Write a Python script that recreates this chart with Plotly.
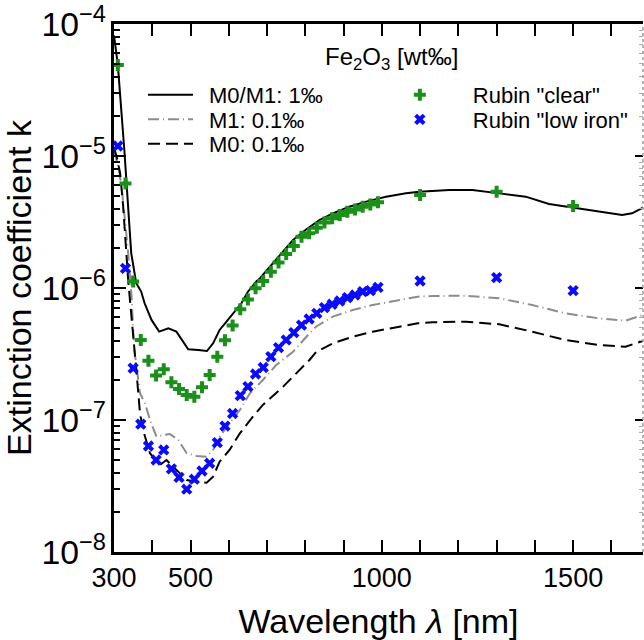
import plotly.graph_objects as go

# Model curves: wavelength [nm] and extinction coefficient k
wl_m01 = [300, 310, 327, 345, 358, 371, 380, 398, 418, 442, 463, 477, 494, 520, 543, 559,
          576, 594, 611, 633, 650, 672, 681, 707, 733, 768, 803, 837, 872, 915, 959, 1011,
          1063, 1098, 1176, 1237, 1307, 1376, 1437, 1498, 1567, 1628, 1654, 1685]
k_m01 = [8.2e-5, 4.9e-5, 1.11e-5, 1.84e-6, 1.09e-6, 9.4e-7, 7.66e-7, 5.73e-7, 4.67e-7, 4.95e-7,
         4.67e-7, 4.03e-7, 3.43e-7, 3.39e-7, 3.33e-7, 3.81e-7, 4.81e-7, 5.56e-7, 6.43e-7,
         7.66e-7, 9.37e-7, 1.12e-6, 1.18e-6, 1.45e-6, 1.78e-6, 2.31e-6, 2.79e-6, 3.27e-6,
         3.68e-6, 4.13e-6, 4.51e-6, 4.92e-6, 5.22e-6, 5.37e-6, 5.53e-6, 5.53e-6, 5.21e-6,
         4.92e-6, 4.33e-6, 4.08e-6, 3.78e-6, 3.57e-6, 3.68e-6, 4.1e-6]

wl_m1 = [300, 311, 320, 329, 337, 346, 352, 368, 381, 394, 411, 428, 446, 468, 490, 516, 542,
         559, 576, 602, 629, 655, 689, 724, 768, 811, 828, 872, 924, 976, 1046, 1094, 1133,
         1220, 1307, 1393, 1480, 1567, 1637, 1685]
k_m1 = [1.1e-5, 8.3e-6, 5.85e-6, 3.27e-6, 1.84e-6, 8.6e-7, 3.6e-7, 1.59e-7, 1.34e-7, 1.0e-7,
        7.47e-8, 7.69e-8, 7.83e-8, 7.05e-8, 5.6e-8, 5.34e-8, 5.27e-8, 5.93e-8, 7.47e-8,
        9.43e-8, 1.19e-7, 1.59e-7, 2.01e-7, 2.61e-7, 3.29e-7, 4.54e-7, 5.09e-7, 6.07e-7,
        6.81e-7, 7.43e-7, 8.1e-7, 8.6e-7, 8.7e-7, 8.74e-7, 8.36e-7, 7.43e-7, 6.43e-7,
        5.89e-7, 5.65e-7, 6.3e-7]

wl_m0 = [300, 307, 316, 324, 337, 342, 350, 359, 368, 376, 394, 420, 437, 455, 468, 490, 516,
         542, 559, 576, 602, 629, 663, 689, 742, 776, 811, 829, 872, 924, 976, 1046, 1094,
         1133, 1220, 1307, 1393, 1480, 1567, 1637, 1685]
k_m0 = [1.15e-5, 9.9e-6, 7.43e-6, 4.13e-6, 1.15e-6, 8.1e-7, 4.56e-7, 2.27e-7, 1.12e-7, 8.4e-8,
        5.6e-8, 4.56e-8, 4.98e-8, 4.43e-8, 4.06e-8, 3.51e-8, 3.41e-8, 3.35e-8, 3.72e-8,
        4.83e-8, 5.93e-8, 7.93e-8, 1.06e-7, 1.30e-7, 1.79e-7, 2.26e-7, 2.85e-7, 3.29e-7,
        3.81e-7, 4.28e-7, 4.67e-7, 5.09e-7, 5.4e-7, 5.5e-7, 5.56e-7, 5.31e-7, 4.67e-7,
        4.03e-7, 3.7e-7, 3.59e-7, 4.0e-7]

# Measured data (Rubin)
wl_rubin = [310, 330, 350, 370, 390, 410, 430, 450, 470, 490, 510, 530, 550, 570, 590, 610,
            630, 650, 670, 690, 710, 730, 750, 770, 790, 810, 830, 850, 870, 890, 910, 930,
            950, 970, 990, 1100, 1300, 1500]
k_clear = [4.9e-5, 6.2e-6, 1.12e-6, 4.03e-7, 2.81e-7, 2.17e-7, 2.42e-7, 1.93e-7, 1.72e-7,
           1.55e-7, 1.50e-7, 1.77e-7, 2.19e-7, 3.02e-7, 4.02e-7, 5.21e-7, 6.9e-7, 8.2e-7,
           9.95e-7, 1.13e-6, 1.33e-6, 1.56e-6, 1.81e-6, 2.08e-6, 2.45e-6, 2.6e-6, 2.86e-6,
           3.13e-6, 3.37e-6, 3.57e-6, 3.78e-6, 3.94e-6, 4.13e-6, 4.3e-6, 4.46e-6, 5.07e-6,
           5.37e-6, 4.18e-6]
k_lowiron = [1.19e-5, 1.41e-6, 2.47e-7, 9.3e-8, 6.35e-8, 4.98e-8, 5.93e-8, 4.26e-8, 3.68e-8,
             2.99e-8, 3.56e-8, 4.11e-8, 4.7e-8, 6.73e-8, 9.0e-8, 1.12e-7, 1.53e-7, 1.79e-7,
             2.23e-7, 2.5e-7, 3.02e-7, 3.53e-7, 4.04e-7, 4.59e-7, 5.24e-7, 5.82e-7, 6.43e-7,
             7.1e-7, 7.53e-7, 7.97e-7, 8.45e-7, 8.85e-7, 9.38e-7, 9.54e-7, 1.01e-6, 1.13e-6,
             1.2e-6, 9.55e-7]

x_ticks = [300, 500, 1000, 1500]
FONT = "Liberation Sans, Arial, sans-serif"
GREEN = "#1a8f1a"
BLUE = "#0a0aff"
GAP = "\u2002"  # spacing between legend line samples and their labels

fig = go.Figure()
fig.add_trace(go.Scatter(x=wl_m01, y=k_m01, mode="lines", name=GAP + "M0/M1: 1‰",
                         line=dict(color="black", width=2), legend="legend"))
fig.add_trace(go.Scatter(x=wl_m1, y=k_m1, mode="lines", name=GAP + "M1: 0.1‰",
                         line=dict(color="#8c8c8c", width=2, dash="11px,4px,1px,4px"),
                         legend="legend2"))
fig.add_trace(go.Scatter(x=wl_m0, y=k_m0, mode="lines", name=GAP + "M0: 0.1‰",
                         line=dict(color="black", width=2, dash="12px,6px"), legend="legend3"))
fig.add_trace(go.Scatter(x=wl_rubin, y=k_clear, mode="markers", name='Rubin "clear"',
                         marker=dict(symbol="cross", size=10, color=GREEN, line=dict(width=0)),
                         legend="legend4"))
fig.add_trace(go.Scatter(x=wl_rubin, y=k_lowiron, mode="markers", name='Rubin "low iron"',
                         marker=dict(symbol="x", size=10, color=BLUE, line=dict(width=0)),
                         legend="legend5"))

# invisible trace carrying the right-hand ticks
fig.add_trace(go.Scatter(x=[None], y=[None], yaxis="y2", showlegend=False, hoverinfo="skip"))


def legend_box(x, y, itemwidth):
    return dict(x=x, y=y, xanchor="left", yanchor="middle", itemwidth=itemwidth,
                font=dict(family=FONT, size=22, color="black"), bgcolor="rgba(0,0,0,0)",
                borderwidth=0, tracegroupgap=0, itemclick=False)


ROW1, ROW2, ROW3 = 0.8655, 0.819, 0.773
COL1, COL2 = 0.0548, 0.478
fig.update_layout(
    width=644, height=640,
    margin=dict(l=114, r=1, t=24, b=88),
    paper_bgcolor="white", plot_bgcolor="white",
    font=dict(family=FONT, size=27, color="black"),
    xaxis=dict(range=[300, 1682.6], tickvals=x_ticks, ticktext=[str(v) for v in x_ticks],
               ticks="inside", ticklen=12, tickwidth=2, tickcolor="black",
               minor=dict(ticks="inside", ticklen=6, tickwidth=2, dtick=100, tick0=0,
                          tickcolor="black", showgrid=False),
               showline=True, linewidth=2.5, linecolor="black", mirror="allticks",
               showgrid=False, zeroline=False,
               tickfont=dict(size=27),
               title=dict(text="Wavelength <i>λ</i> [nm]", font=dict(size=34), standoff=20)),
    yaxis=dict(type="log", range=[-8, -4], dtick=1, exponentformat="power",
               ticks="inside", ticklen=12, tickwidth=2, tickcolor="black",
               minor=dict(ticks="inside", ticklen=6, tickwidth=2, dtick="D1",
                          tickcolor="black", showgrid=False),
               showline=True, linewidth=2.5, linecolor="black", mirror=False,
               showgrid=False, zeroline=False, tickfont=dict(size=27),
               title=dict(text="Extinction coefficient k", font=dict(size=34), standoff=8)),
    yaxis2=dict(type="log", range=[-8, -4], dtick=1, overlaying="y", side="right",
                showline=False, showticklabels=False, showgrid=False, zeroline=False,
                ticks="inside", ticklen=8, tickwidth=2, tickcolor="black",
                minor=dict(ticks="inside", ticklen=4, tickwidth=1, dtick="D1",
                           tickcolor="#aaaaaa", showgrid=False)),
    legend=legend_box(COL1, ROW1, 45),
    legend2=legend_box(COL1, ROW2, 45),
    legend3=legend_box(COL1, ROW3, 45),
    legend4=legend_box(COL2, ROW1, 96),
    legend5=legend_box(COL2, ROW2, 96),
    showlegend=True,
)

# legend heading
fig.add_annotation(text="Fe<sub>2</sub>O<sub>3</sub> [wt‰]", xref="paper", yref="paper",
                   x=0.5246, y=0.934, xanchor="center", yanchor="middle", showarrow=False,
                   font=dict(family=FONT, size=24, color="black"))

# right-hand frame edge
fig.add_shape(type="line", xref="paper", yref="paper", x0=1, x1=1, y0=0, y1=1,
              line=dict(color="#9a9a9a", width=1.5, dash="dot"))

fig.write_html("out.html")
